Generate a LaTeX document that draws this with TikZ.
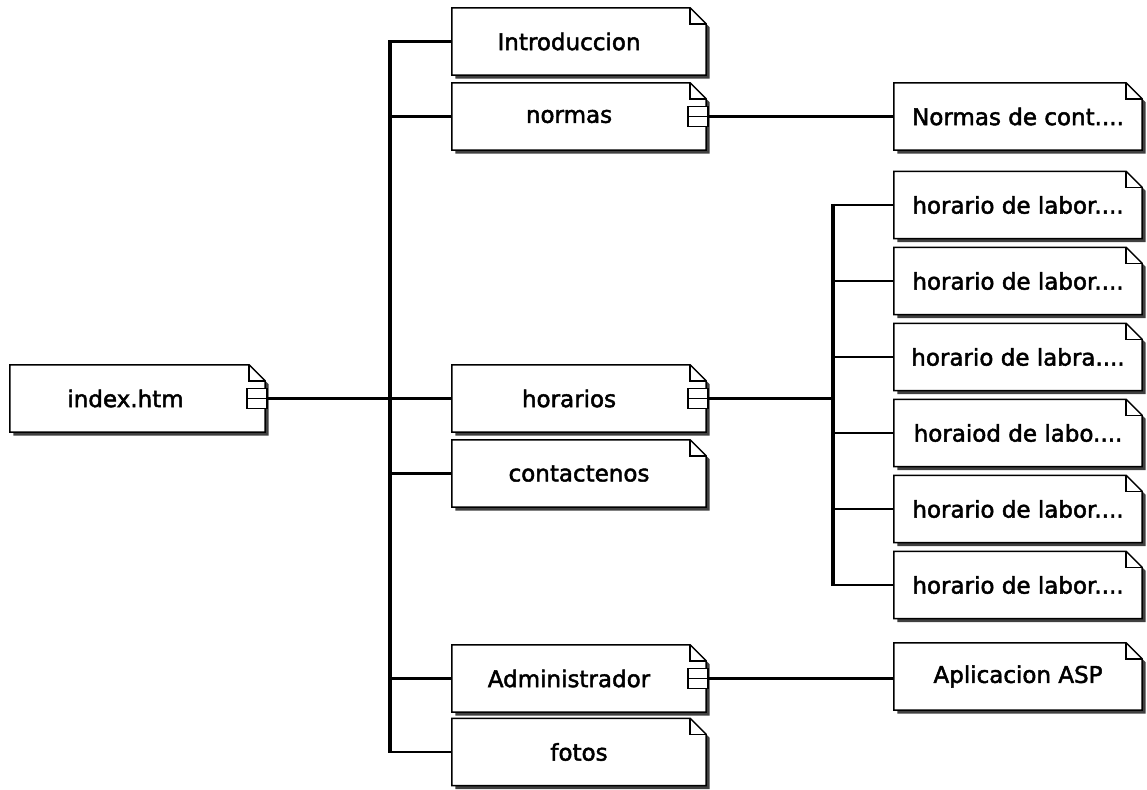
\documentclass[tikz,border=0pt]{standalone}
\usepackage{fontspec}
\setmainfont{DejaVu Sans}
\newfontfamily\docfont{DejaVu Sans}[FakeBold=2]
\usetikzlibrary{backgrounds}

% label centred with extra room kept free on its right side
\newcommand\lbl[2][0pt]{\makebox[0pt]{#2\hspace*{#1}}}

% page outline with folded corner and drop shadow, drawn behind node #1
\newcommand\docshape[1]{%
  \fill[shadowc] ([xshift=3.5pt,yshift=-3.5pt]#1.north west)
     -- ([xshift=-12.5pt,yshift=-3.5pt]#1.north east)
     -- ([xshift=3.5pt,yshift=-19.5pt]#1.north east)
     -- ([xshift=3.5pt,yshift=-3.5pt]#1.south east)
     -- ([xshift=3.5pt,yshift=-3.5pt]#1.south west) -- cycle;
  \draw[edge, fill=white] (#1.north west)
     -- ([xshift=-16pt]#1.north east)
     -- ([yshift=-16pt]#1.north east)
     -- (#1.south east) -- (#1.south west) -- cycle;
  \draw[edge] ([xshift=-16pt]#1.north east)
     -- ([xshift=-16pt,yshift=-16pt]#1.north east)
     -- ([yshift=-16pt]#1.north east);
}

\begin{document}
\begin{tikzpicture}[x=1pt,y=-1pt,
  shadowc/.style={fill=black!75},
  edge/.style={line width=1.5pt, line join=miter},
  doc/.style={rectangle, inner sep=0pt, minimum height=67pt,
              font=\docfont\fontsize{23}{26}\selectfont},
  leftcol/.style={doc, minimum width=255pt},
  midcol/.style={doc, minimum width=254pt},
  rightcol/.style={doc, minimum width=248pt},
  comp/.style={rectangle, draw, fill=white, line width=1.5pt,
               minimum width=20pt, minimum height=20pt, inner sep=0pt,
               path picture={\draw[line width=1.5pt]
                 (path picture bounding box.west) -- (path picture bounding box.east);}},
  wire/.style={line width=2.2pt},
  bus/.style={line width=3.4pt, shorten <=-1.1pt, shorten >=-1.1pt},
]
\useasboundingbox (0,0) rectangle (1147,789);

% pages
\node[leftcol] (index) at (137.5,398.5) {\lbl[24pt]{index.htm}};

\node[midcol] (intro)    at (579,41.5)  {\lbl[20pt]{Introduccion}};
\node[midcol] (normas)   at (579,116.5) {\lbl[20pt]{normas}};
\node[midcol] (horarios) at (579,398.5) {\lbl[20pt]{horarios}};
\node[midcol] (contact)  at (579,473.5) {\lbl{contactenos}};
\node[midcol] (admin)    at (579,678.5) {\lbl[20pt]{Administrador}};
\node[midcol] (fotos)    at (579,752)   {\lbl{fotos}};

\node[rightcol] (ncont) at (1018,116.5) {\lbl{Normas de cont....}};
\node[rightcol] (h1)    at (1018,205)   {\lbl{horario de labor....}};
\node[rightcol] (h2)    at (1018,281)   {\lbl{horario de labor....}};
\node[rightcol] (h3)    at (1018,357)   {\lbl{horario de labra....}};
\node[rightcol] (h4)    at (1018,433)   {\lbl{horaiod de labo....}};
\node[rightcol] (h5)    at (1018,509)   {\lbl{horario de labor....}};
\node[rightcol] (h6)    at (1018,585)   {\lbl{horario de labor....}};
\node[rightcol] (asp)   at (1018,676.5) {\lbl{Aplicacion ASP}};

\begin{scope}[on background layer]
  \fill[white] (0,0) rectangle (1147,789);
  \foreach \n in {index,intro,normas,horarios,contact,admin,fotos,
                  ncont,h1,h2,h3,h4,h5,h6,asp} {\docshape{\n}}
\end{scope}

% component markers on pages that own sub-pages
\node[comp] (index-c)    at ([xshift=-8pt]index.east)    {};
\node[comp] (normas-c)   at ([xshift=-8pt]normas.east)   {};
\node[comp] (horarios-c) at ([xshift=-8pt]horarios.east) {};
\node[comp] (admin-c)    at ([xshift=-8pt]admin.east)    {};

% bus positions
\coordinate (busL) at (390,0);
\coordinate (busR) at (833,0);

% index.htm to its pages
\draw[wire] (index-c.east) -- (index-c.east -| busL);
\draw[bus] (intro.west -| busL) -- (fotos.west -| busL);
\foreach \n in {intro,normas,horarios,contact,admin,fotos}
  \draw[wire] (\n.west) -- (\n.west -| busL);

% horarios to its schedules
\draw[wire] (horarios-c.east) -- (horarios-c.east -| busR);
\draw[bus] (h1.west -| busR) -- (h6.west -| busR);
\foreach \n in {h1,h2,h3,h4,h5,h6}
  \draw[wire] (\n.west) -- (\n.west -| busR);

% single links
\draw[wire] (normas-c.east) -- (normas-c.east -| ncont.west);
\draw[wire] (admin-c.east) -- (admin-c.east -| asp.west);
\end{tikzpicture}
\end{document}
